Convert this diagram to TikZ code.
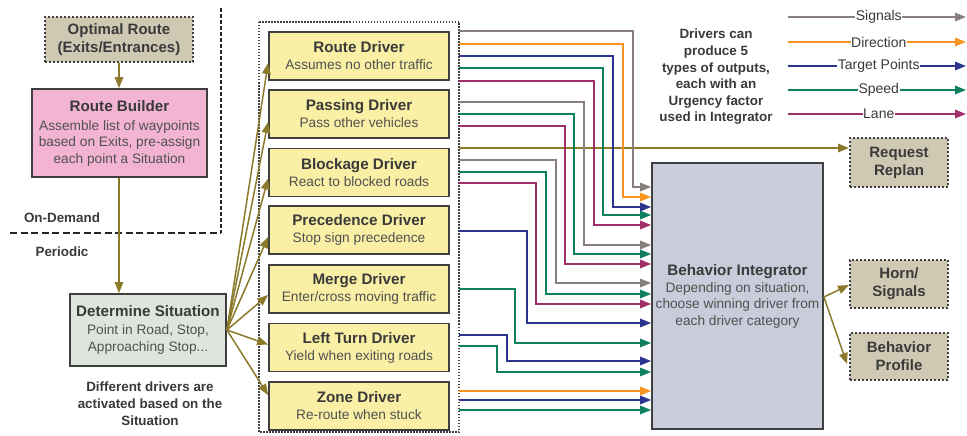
\documentclass[tikz,border=0pt]{standalone}
\usepackage{fontspec}
\setmainfont{Liberation Sans}
\usetikzlibrary{arrows.meta,calc}
\definecolor{cbord}{HTML}{3F3F3F}
\definecolor{ctxt}{HTML}{3A3A3A}
\definecolor{csub}{HTML}{505050}
\definecolor{cyel}{HTML}{F9F0A6}
\definecolor{cpink}{HTML}{F3B4D3}
\definecolor{cgreenbox}{HTML}{DDE5DC}
\definecolor{cinteg}{HTML}{C9CCDA}
\definecolor{ctan}{HTML}{CFC9B4}
\definecolor{cflow}{HTML}{8C7A2B}
\definecolor{csig}{HTML}{8A7F7F}
\definecolor{cdir}{HTML}{F7941D}
\definecolor{ctgt}{HTML}{2B3590}
\definecolor{cspd}{HTML}{0E8060}
\definecolor{clane}{HTML}{A0306A}
\newcommand{\ttl}{\fontsize{15.2}{17}\selectfont\bfseries\color{ctxt}}
\newcommand{\sbt}{\fontsize{13.7}{16.5}\selectfont\color{csub}}
\begin{document}
\begin{tikzpicture}[x=1pt,y=-1pt,
  tipA/.style={-{Triangle[length=11pt,width=8.5pt]}},
  outl/.style={line width=1.5pt, tipA},
  sigc/.style={outl, draw=csig},
  dirc/.style={outl, draw=cdir},
  tgtc/.style={outl, draw=ctgt},
  spdc/.style={outl, draw=cspd},
  lanec/.style={outl, draw=clane},
  flow/.style={draw=cflow, line width=1.5pt, tipA},
  solidbox/.style={draw=cbord, line width=1.8pt, align=center, inner sep=1pt, font=\fontsize{13.7}{16.5}\selectfont},
  drvbox/.style={solidbox, fill=cyel, minimum width=180pt, minimum height=48pt, font=\fontsize{13.7}{17}\selectfont},
  tanbox/.style={draw=cbord, line width=2pt, dash pattern=on 2pt off 2pt, fill=ctan, minimum width=98pt, minimum height=48pt, align=center, inner sep=1pt, font=\fontsize{15}{18}\selectfont\bfseries\color{ctxt}},
  lbl/.style={font=\fontsize{13.4}{16.6}\selectfont\bfseries\color{ctxt}, align=center},
  leg/.style={fill=white, inner sep=0.5pt, font=\fontsize{14}{16}\selectfont\color{ctxt}}
]
\useasboundingbox (0,0) rectangle (967,436);
\fill[white] (0,0) rectangle (967,436);

% separators
\draw[line width=2.5pt, color=black!85, dash pattern=on 4pt off 2pt] (221,8) -- (221,233);
\draw[line width=2.5pt, color=black!85, dash pattern=on 7pt off 3.5pt] (10,233) -- (221,233);
\node[lbl] (ondemand) at (62,218) {On-Demand};
\node[lbl] (periodic) at (62,252) {Periodic};

% left column
\node[tanbox, minimum width=148pt, minimum height=45pt] (opt) at (119,39.5) {Optimal Route\\(Exits/Entrances)};
\node[solidbox, fill=cpink, minimum width=175pt, minimum height=88pt] (rb) at (119.5,133)
  {{\ttl Route Builder}\\[2.5pt]{\sbt Assemble list of waypoints}\\{\sbt based on Exits, pre-assign}\\{\sbt each point a Situation}};
\node[solidbox, fill=cgreenbox, minimum width=156pt, minimum height=72pt] (ds) at (148,330)
  {{\ttl Determine Situation}\\[1.5pt]{\sbt Point in Road, Stop,}\\{\sbt Approaching Stop...}};
\node[lbl, font=\fontsize{13.4}{17}\selectfont\bfseries\color{ctxt}] (diff) at (150,404) {Different drivers are\\activated based on the\\Situation};

\draw[flow] (opt.south) -- (rb.north -| opt.south);
\draw[flow] (rb.south -| opt.south) -- (ds.north -| opt.south);

% drivers container
\draw[line width=1.3pt, color=cbord, dash pattern=on 1.5pt off 1.5pt] (259,22) rectangle (459,432);
\coordinate (cont) at (459,22);

\node[drvbox] (route) at (359,56) {{\ttl Route Driver}\\{\sbt Assumes no other traffic}};
\node[drvbox] (pass) at (359,114) {{\ttl Passing Driver}\\{\sbt Pass other vehicles}};
\node[drvbox] (block) at (359,172.5) {{\ttl Blockage Driver}\\{\sbt React to blocked roads}};
\node[drvbox] (prec) at (359,230) {{\ttl Precedence Driver}\\{\sbt Stop sign precedence}};
\node[drvbox] (merge) at (359,289) {{\ttl Merge Driver}\\{\sbt Enter/cross moving traffic}};
\node[drvbox] (left) at (359,347.5) {{\ttl Left Turn Driver}\\{\sbt Yield when exiting roads}};
\node[drvbox] (zone) at (359,406) {{\ttl Zone Driver}\\{\sbt Re-route when stuck}};

\draw[flow] (ds.east) -- ([yshift=-7pt]route.west);
\draw[flow] (ds.east) -- ([yshift=-8pt]pass.west);
\draw[flow] (ds.east) -- ([yshift=-6pt]block.west);
\draw[flow] (ds.east) -- ([yshift=-7pt]prec.west);
\draw[flow] (ds.east) -- ([yshift=-6pt]merge.west);
\draw[flow] (ds.east) -- ([yshift=3pt]left.west);
\draw[flow] (ds.east) -- ([yshift=11pt]zone.west);

% integrator
\node[solidbox, fill=cinteg, minimum width=171pt, minimum height=266pt] (integ) at (737.5,296)
  {{\ttl Behavior Integrator}\\[0.5pt]{\sbt Depending on situation,}\\{\sbt choose winning driver from}\\{\sbt each driver category}};

% outputs
\node[tanbox, minimum height=49pt] (rr) at (899,162.5) {Request\\Replan};
\node[tanbox] (hs) at (899,284) {Horn/\\Signals};
\node[tanbox, minimum height=47pt] (bp) at (899,356.5) {Behavior\\Profile};

\draw[flow] (cont |- 0,148) -- (rr.west |- 0,148);
\draw[flow] (integ.east |- 0,297) -- (hs.west |- 0,285);
\draw[flow] (integ.east |- 0,297) -- ([xshift=-2pt]bp.west |- 0,364);

% driver output connectors
\foreach \c/\ya/\xv/\yb in {
  sigc/31/633/187, dirc/44/623/197, tgtc/56/613/207, spdc/68/603/215, lanec/81/594/225,
  sigc/102/584/245, spdc/114/574/254, lanec/126/565/264,
  sigc/160/556/283, spdc/172/546/294, lanec/183/536/304,
  tgtc/231/527/323, spdc/289/515/343, tgtc/335/507/361, spdc/346/497/372}
  \draw[\c] (cont |- 0,\ya) -| (\xv,\yb) -- (integ.west |- 0,\yb);
\foreach \c/\ya in {dirc/391, tgtc/400, spdc/410}
  \draw[\c] (cont |- 0,\ya) -- (integ.west |- 0,\ya);

% legend
\node[lbl] (note) at (716,77) {Drivers can\\produce 5\\types of outputs,\\each with an\\Urgency factor\\used in Integrator};
\coordinate (legL) at (788,0);
\coordinate (legR) at (966,0);
\draw[sigc] (legL |- 0,17) -- (legR |- 0,17) node[leg, pos=0.51] (lsig) {Signals};
\draw[dirc] (legL |- 0,42) -- (legR |- 0,42) node[leg, pos=0.51] (ldir) {Direction};
\draw[tgtc] (legL |- 0,66) -- (legR |- 0,66) node[leg, pos=0.51] (ltgt) {Target Points};
\draw[spdc] (legL |- 0,90) -- (legR |- 0,90) node[leg, pos=0.51] (lspd) {Speed};
\draw[lanec] (legL |- 0,114) -- (legR |- 0,114) node[leg, pos=0.51] (llane) {Lane};
\end{tikzpicture}
\end{document}
